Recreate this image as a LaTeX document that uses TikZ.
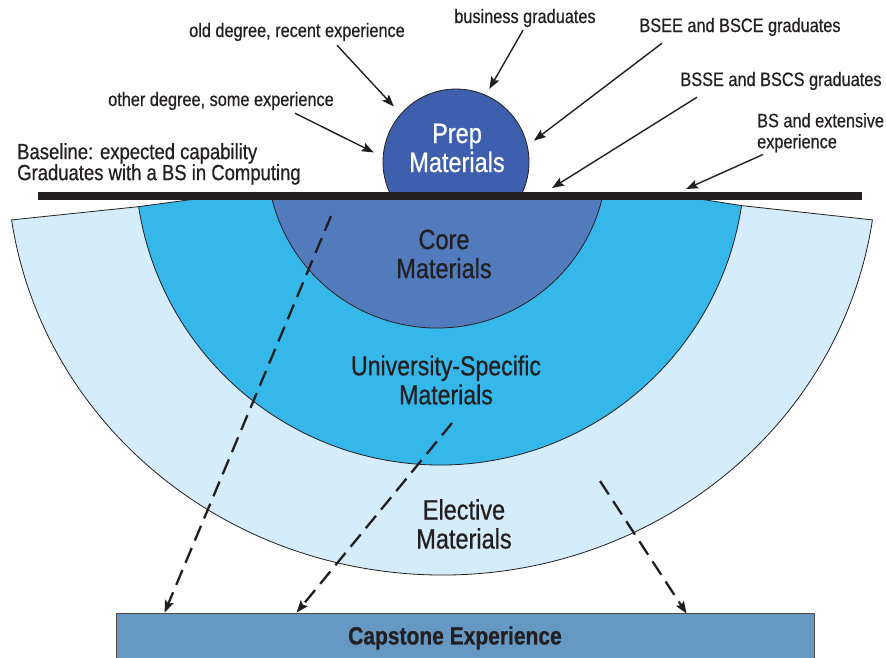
\documentclass[tikz,border=0pt]{standalone}
\usepackage{fontspec}
\setmainfont{Liberation Sans}[FakeStretch=0.84, FakeBold=0.6]
\usetikzlibrary{arrows.meta,positioning}

\definecolor{ink}{HTML}{231F20}
\definecolor{elecblue}{HTML}{D5ECFA}
\definecolor{univblue}{HTML}{35B8E9}
\definecolor{coreblue}{HTML}{527BBE}
\definecolor{prepblue}{HTML}{3E5FAD}
\definecolor{capblue}{HTML}{6598C2}

\begin{document}
\begin{tikzpicture}[
  x = 1pt, y = 1pt,
  every node/.style = {text=ink, inner sep=0pt},
  sector/.style = {draw=ink, line width=0.8pt},
  area/.style = {font=\fontsize{28}{29}\selectfont, align=center},
  note/.style = {font=\fontsize{19.4}{21}\selectfont},
  arr/.style = {-{Stealth[length=12pt,width=9pt,inset=2pt]}, line width=1.4pt, draw=ink},
  flow/.style = {arr, line width=2.3pt, dash pattern=on 16pt off 8pt}
]
\useasboundingbox (0,0) rectangle (886,-657);

% layers below the baseline
\path (440,-160) ++(-8.6:305) coordinate (uR)
      (440,-160) ++(-171.2:305) coordinate (uL);
\draw[sector, fill=elecblue] (442,-160) ++(-8.3:435 and 415) coordinate (eR)
  arc[start angle=-8.3, end angle=-171.7, x radius=435pt, y radius=415pt] coordinate (eL)
  -- (uL) -- (uR) -- cycle;
\draw[sector, fill=univblue] (uR)
  arc[start angle=-8.6, end angle=-171.2, radius=305pt]
  -- (210,-197) -- (687,-197) -- cycle;
\node[circle, draw=ink, line width=0.8pt, fill=prepblue, minimum size=146pt] (prep) at (456,-162) {};
\draw[sector, fill=coreblue] (437,-158) ++(-14:170)
  arc[start angle=-14, end angle=-166, radius=170pt] -- cycle;

% baseline bar
\coordinate (barL) at (38,-196);
\coordinate (barR) at (862,-196);
\draw[line width=8pt, ink] (barL) -- (barR);

% layer names
\node[area, text=white] (prepT) at (457,-148) {Prep\\Materials};
\node[area] (coreT) at (444,-254) {Core\\Materials};
\node[area, font=\fontsize{27.5}{29}\selectfont] (univT) at (446,-380) {University-Specific\\Materials};
\node[area] (elecT) at (464,-524) {Elective\\Materials};

% capstone
\node[draw=ink!80, line width=0.8pt, fill=capblue, minimum width=698pt, minimum height=48pt] (cap) at (465,-637) {};
\node[font=\bfseries\fontsize{25}{26}\selectfont] (capT) at (455,-638) {Capstone Experience};

% entry points
\node[note, anchor=base] (old) at (297,-37) {old degree, recent experience};
\node[note, anchor=base] (other) at (221,-106) {other degree, some experience};
\node[note, anchor=base] (biz) at (525,-23) {business graduates};
\node[note, anchor=base] (bsee) at (740,-32) {BSEE and BSCE graduates};
\node[note, anchor=base] (bsse) at (781,-86) {BSSE and BSCS graduates};
\node[note, align=left, anchor=north west] (bsx) at (757,-113) {BS and extensive\\experience};
\node[note, font=\fontsize{22}{21}\selectfont, align=left, anchor=north west] (base) at (17,-143)
  {Baseline: expected capability\\Graduates with a BS in Computing};

\coordinate (hitA) at (552,-188);
\coordinate (hitB) at (686,-189);

\draw[arr, shorten >=10pt] ([xshift=40pt,yshift=-4pt]old.south) -- (prep.139);
\draw[arr, shorten >=10pt] ([xshift=74pt,yshift=-3pt]other.south) -- (prep.176);
\draw[arr, shorten >=7pt] ([xshift=-2pt,yshift=-3pt]biz.south) -- (prep.66);
\draw[arr, shorten >=8pt] ([xshift=-78pt,yshift=-7pt]bsee.south) -- (prep.13);
\draw[arr] ([xshift=-84pt,yshift=-7pt]bsse.south) -- (hitA);
\draw[arr] ([xshift=6pt,yshift=-2pt]bsx.south west) -- (hitB);

% paths to the capstone
\coordinate (fromCore) at (331,-216);
\coordinate (fromUniv) at (452,-423);
\coordinate (fromElec) at (600,-481);
\draw[flow] (fromCore) -- ([xshift=49pt]cap.north west);
\draw[flow] (fromUniv) -- ([xshift=181pt]cap.north west);
\draw[flow] (fromElec) -- ([xshift=571pt,yshift=-1pt]cap.north west);
\end{tikzpicture}
\end{document}
